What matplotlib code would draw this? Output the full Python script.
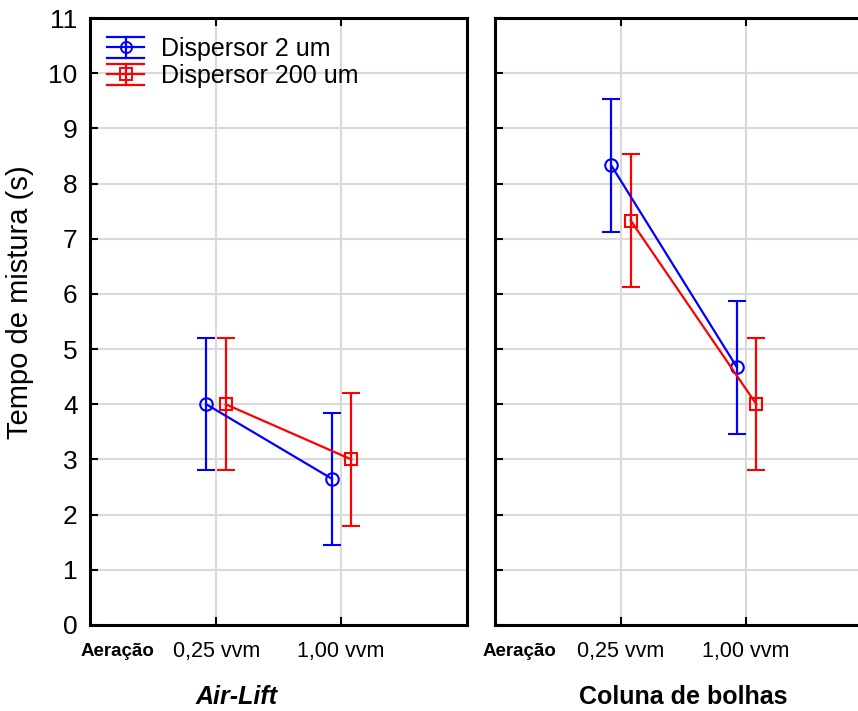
import numpy as np
import matplotlib
matplotlib.use("Agg")
import matplotlib.pyplot as plt
from matplotlib.legend_handler import HandlerBase
from matplotlib.lines import Line2D

# Mixing time data (mean and half-width of the interval)
aeration_labels = ["0,25 vvm", "1,00 vvm"]
series_names = ["Dispersor 2 um", "Dispersor 200 um"]
panels = ["Air-Lift", "Coluna de bolhas"]

airlift_2um = [4.0, 2.65]
airlift_200um = [4.0, 3.0]
coluna_2um = [8.33, 4.67]
coluna_200um = [7.33, 4.0]
airlift_err_2um = [1.2, 1.2]
airlift_err_200um = [1.2, 1.2]
coluna_err_2um = [1.2, 1.2]
coluna_err_200um = [1.2, 1.2]

y_ticks = list(range(0, 12))

W, H = 858, 711
plt.rcParams["font.family"] = ["Liberation Sans", "DejaVu Sans"]
fig = plt.figure(figsize=(W / 100, H / 100), dpi=100)


def fx(px):
    return px / W


def fy(py):
    return 1 - py / H


class ErrorbarKey(HandlerBase):
    """Legend key: mean line with marker, whisker and full-width caps."""

    def __init__(self, color, marker):
        super().__init__()
        self.color = color
        self.marker = marker

    def create_artists(self, legend, orig_handle, xdescent, ydescent,
                       width, height, fontsize, trans):
        x0, x1 = -xdescent, -xdescent + width
        yc = -ydescent + height / 2
        dy = height * 0.62
        xc = (x0 + x1) / 2
        kw = dict(color=self.color, linewidth=1.6, transform=trans)
        arts = [
            Line2D([x0, x1], [yc, yc], **kw),
            Line2D([x0, x1], [yc + dy, yc + dy], **kw),
            Line2D([x0, x1], [yc - dy, yc - dy], **kw),
            Line2D([xc, xc], [yc - dy, yc + dy], **kw),
            Line2D([xc], [yc], marker=self.marker, markersize=8,
                   markerfacecolor="none", markeredgecolor=self.color,
                   markeredgewidth=1.4, linestyle="none", transform=trans),
        ]
        return arts


ax_left = fig.add_axes([fx(90), fy(625), fx(377), (625 - 18) / H])
ax_right = fig.add_axes([fx(495), fy(625), fx(377), (625 - 18) / H])

colors = ["#0000ff", "#ff0000"]
markers = ["o", "s"]
offsets = [-0.075, 0.08]

panel_data = [
    (ax_left, [airlift_2um, airlift_200um], [airlift_err_2um, airlift_err_200um]),
    (ax_right, [coluna_2um, coluna_200um], [coluna_err_2um, coluna_err_200um]),
]

x = np.arange(len(aeration_labels))
handles = []
for ax, vals, errs in panel_data:
    ax.set_xlim(-1, 2)
    ax.set_ylim(0, 11)
    ax.set_xticks(x)
    ax.set_yticks(y_ticks)
    ax.grid(True, color="#d9d9d9", linewidth=1.5)
    ax.set_axisbelow(True)
    for i in range(2):
        h = ax.errorbar(x + offsets[i], vals[i], yerr=errs[i], color=colors[i],
                        marker=markers[i], markersize=9, markerfacecolor="none",
                        markeredgewidth=1.5, linewidth=1.6, elinewidth=1.6,
                        capsize=6.5, capthick=1.6, label=series_names[i],
                        zorder=3, clip_on=False)
        if ax is ax_left:
            handles.append(h)
    for s in ax.spines.values():
        s.set_linewidth(2.2)
    ax.tick_params(direction="in", length=6, width=1.5, top=True, labelsize=19,
                   pad=9)
    ax.set_xticklabels([])

ax_left.tick_params(right=False)
ax_right.tick_params(labelleft=False, right=False)
ax_right.spines["right"].set_visible(False)

ax_left.set_ylabel("Tempo de mistura (s)", fontsize=21)
ax_left.yaxis.set_label_coords(-0.148, 0.532)

ax_left.legend(handles=handles, loc="upper left", frameon=False,
               fontsize=18, handlelength=1.5, handleheight=0.7,
               handletextpad=0.65, labelspacing=0.12, borderaxespad=0.0,
               bbox_to_anchor=(0.018, 0.985),
               handler_map={handles[0]: ErrorbarKey(colors[0], markers[0]),
                            handles[1]: ErrorbarKey(colors[1], markers[1])})

# Category labels beneath each panel
for label_x, aer_x in [([217, 341], 117), ([621, 746], 519)]:
    fig.text(fx(aer_x), fy(651), "Aeração", ha="center", va="center",
             fontsize=13.5, fontweight="bold")
    for lx, lab in zip(label_x, aeration_labels):
        fig.text(fx(lx), fy(651), lab, ha="center", va="center", fontsize=15.5)

fig.text(fx(237), fy(697), panels[0], ha="center", va="center", fontsize=18,
         fontweight="bold", fontstyle="italic")
fig.text(fx(683), fy(697), panels[1], ha="center", va="center", fontsize=18,
         fontweight="bold")

fig.savefig("out.png", dpi=100)
